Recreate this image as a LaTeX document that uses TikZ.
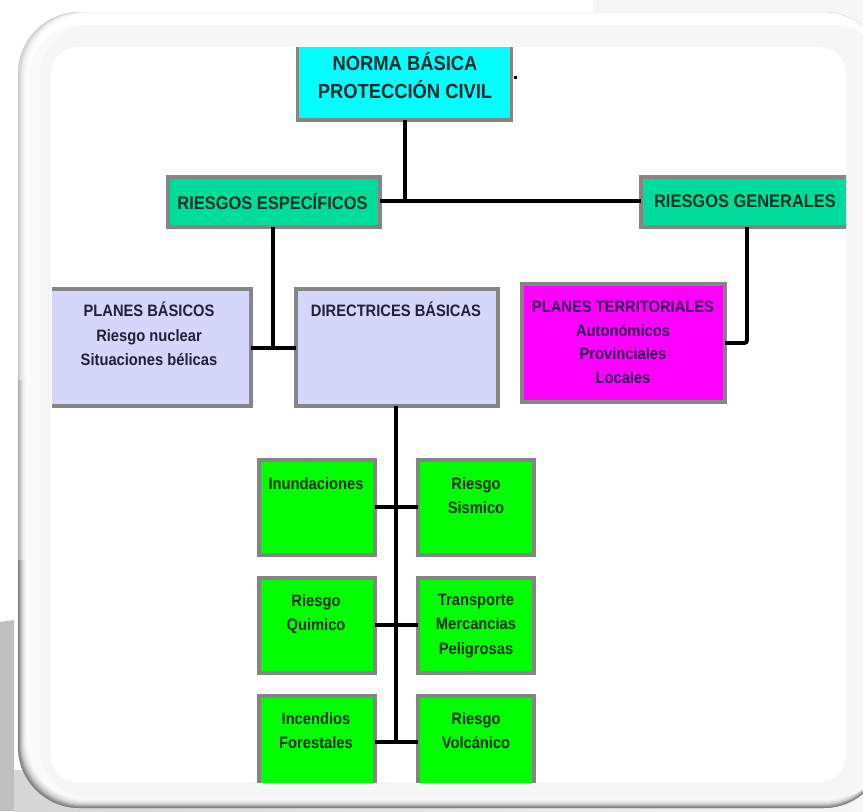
\documentclass[tikz,border=0pt]{standalone}
\usepackage{fontspec}
\setmainfont{Liberation Sans}
\tikzset{
 x=0.75pt,y=-0.75pt,
 box/.style={rectangle,draw=boxedge,line width=2.7pt,outer sep=0pt,inner sep=0pt},
 conn/.style={draw=black,line width=2.9pt},
 big/.style={align=center,inner sep=0pt,font=\fontsize{15.3}{21}\selectfont\addfontfeature{FakeStretch=0.9}\bfseries},
 mid/.style={align=center,inner sep=0pt,font=\fontsize{13.7}{14}\selectfont\addfontfeature{FakeStretch=0.9}\bfseries},
 small/.style={align=center,anchor=north,inner sep=0pt,font=\fontsize{12.4}{18.2}\selectfont\addfontfeature{FakeStretch=0.89}\bfseries},
 territ/.style={align=center,anchor=north,inner sep=0pt,font=\fontsize{12.4}{17.8}\selectfont\addfontfeature{FakeStretch=0.89}\bfseries},
 green text/.style={small,text=txtg},
}
\definecolor{boxedge}{HTML}{858585}
\definecolor{txtc}{HTML}{002A2A}
\definecolor{txtt}{HTML}{003322}
\definecolor{txtl}{HTML}{20203A}
\definecolor{txtm}{HTML}{300050}
\definecolor{txtg}{HTML}{003000}
\definecolor{cyanb}{HTML}{00FFFF}
\definecolor{teal1}{HTML}{00DC9C}
\definecolor{lav}{HTML}{D6D6FB}
\definecolor{mag}{HTML}{FF00FF}
\definecolor{grn}{HTML}{00FF00}
\definecolor{panel}{HTML}{F6F6F7}
\begin{document}
\begin{tikzpicture}
\useasboundingbox (0,0) rectangle (863,811);
\fill[white] (0,0) rectangle (863,811);
\fill[panel] (593,0) rectangle (863,60);
\fill[panel] (800,760) rectangle (863,811);
\fill[black!25] (0,622) -- (14,620) -- (14,811) -- (0,811) -- cycle;
\shade[left color=black!16,right color=panel] (14,770) rectangle (863,811);
% frame, built from nested outlines that fade towards the inside
\foreach \i/\c in {0/20,1/17,2/14,3/11,4/8,5/6,6/4,7/3,8/2,9/1,10/0}
  \fill[black!\c,rounded corners=46pt] ({18+\i},{12+0.1*\i}) rectangle (885,{808-\i});
\begin{scope}
\clip (0,380) rectangle (863,811);
\foreach \i/\c in {0/34,1/28,2/22,3/16,4/11,5/8,6/5,7/3,8/2,9/1,10/0}
  \fill[black!\c,rounded corners=46pt] ({18+\i},{12+0.1*\i}) rectangle (885,{808-\i});
\end{scope}
\begin{scope}
\clip (0,560) rectangle (863,811);
\foreach \i/\c in {0/50,1/42,2/32,3/24,4/17,5/12,6/8,7/5,8/3,9/1,10/0}
  \fill[black!\c,rounded corners=46pt] ({18+\i},{12+0.1*\i}) rectangle (885,{808-\i});
\end{scope}
\fill[panel!60!white,rounded corners=38pt] (29,25) rectangle (885,798);
\fill[panel,rounded corners=38pt] (40,25) rectangle (885,798);
\fill[white,rounded corners=20pt] (51,47) rectangle (846,782);
\begin{scope}
\clip (52,47) rectangle (846,782);
\node[box,fill=cyanb,minimum width=214*0.75pt,minimum height=90*0.75pt] (norma) at (404.5,75) {};
\node[box,fill=teal1,minimum width=212*0.75pt,minimum height=50*0.75pt] (esp) at (274,202) {};
\node[box,fill=teal1,minimum width=210*0.75pt,minimum height=50*0.75pt] (gen) at (746,202) {};
\node[box,fill=lav,minimum width=240*0.75pt,minimum height=117*0.75pt] (pb) at (131,347.5) {};
\node[box,fill=lav,minimum width=202*0.75pt,minimum height=117*0.75pt] (dir) at (397,347.5) {};
\node[box,fill=mag,minimum width=203*0.75pt,minimum height=118*0.75pt] (pt) at (623.5,343) {};
\foreach \n/\x/\y in {a/317/507.5,b/476/507.5,c/317/625.5,d/476/625.5,e/317/743.5,f/476/743.5}
  \node[box,fill=grn,minimum width=116*0.75pt,minimum height=95*0.75pt] (\n) at (\x,\y) {};
\end{scope}
% junctions
\coordinate (jt) at (405,201);
\coordinate (jb) at (273,348);
\coordinate (jr) at (747,343);
\coordinate (g1) at (396,507);
\coordinate (g2) at (396,625);
\coordinate (g3) at (396,742);
% texts
\node[big,text=txtc] (tnorma) at (405,75.5) {NORMA BÁSICA\\PROTECCIÓN CIVIL};
\node[mid,text=txtt] (tesp) at (272.5,201) {RIESGOS ESPECÍFICOS};
\node[mid,text=txtt] (tgen) at (745,201) {RIESGOS GENERALES};
\node[small,text=txtl] (tpb) at (149,302) {PLANES BÁSICOS\\Riesgo nuclear\\Situaciones bélicas};
\node[small,text=txtl] (tdir) at (396,302) {DIRECTRICES BÁSICAS};
\node[territ,text=txtm] (tpt) at (623,300.5) {PLANES TERRITORIALES\\Autonómicos\\Provinciales\\Locales};
\node[green text] (ta) at (316,477) {Inundaciones};
\node[green text] (tb) at (476,477) {Riesgo\\Sismico};
\node[green text] (tc) at (316,594) {Riesgo\\Quimico};
\node[green text] (td) at (476,594) {Transporte\\Mercancias\\Peligrosas};
\node[green text] (te) at (316,712) {Incendios\\Forestales};
\node[green text] (tf) at (476,712) {Riesgo\\Volcánico};
% connectors
\draw[conn] (norma.south -| jt) -- (jt);
\draw[conn] (esp.east |- jt) -- (gen.west |- jt);
\draw[conn] (esp.south -| jb) -- (jb);
\draw[conn] (pb.east |- jb) -- (dir.west |- jb);
\draw[conn,rounded corners=2pt] (gen.south -| jr) -- (jr) -- (pt.east |- jr);
\draw[conn] (dir.south -| g1) -- (g3);
\draw[conn] (a.east |- g1) -- (b.west |- g1);
\draw[conn] (c.east |- g2) -- (d.west |- g2);
\draw[conn] (e.east |- g3) -- (f.west |- g3);
\fill (514,76) rectangle (517,79);
\end{tikzpicture}
\end{document}
